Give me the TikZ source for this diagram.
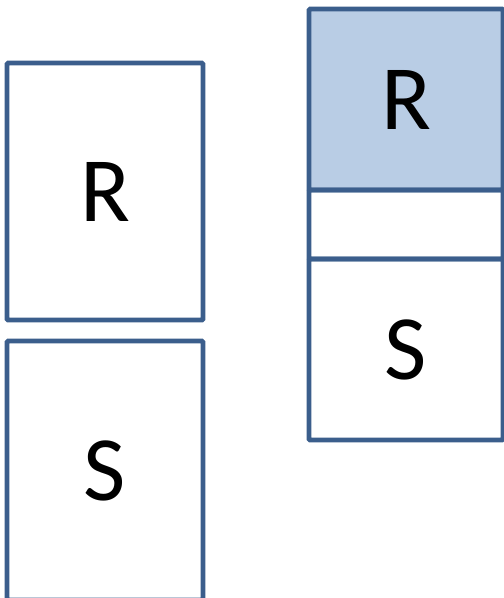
\documentclass[tikz,border=0pt]{standalone}
\usepackage{fontspec}
\setmainfont{Carlito}
\definecolor{edgeblue}{HTML}{3B5E8C}
\definecolor{fillblue}{HTML}{B9CDE5}
\begin{document}
\begin{tikzpicture}[x=1pt,y=-1pt,
  box/.style={draw=edgeblue,line width=4.6pt,rounded corners=1pt,inner sep=0pt,
    font=\fontsize{92}{92}\selectfont,text=black}]
\useasboundingbox (0,0) rectangle (504,598);
\begin{scope}
\clip (0,0) rectangle (504,598);
\node[box,minimum width=196pt,minimum height=257pt] (lr) at (105,191.5) {R};
\node[box,minimum width=196pt,minimum height=259pt] (ls) at (105,470.5) {S};
\node[box,fill=fillblue,minimum width=194pt,minimum height=181pt] (rr) at (406,99.5) {R};
\node[box,minimum width=194pt,minimum height=69pt] (rm) at (406,224.5) {};
\node[box,minimum width=194pt,minimum height=181pt] (rs) at (406,349.5) {S};
\end{scope}
\end{tikzpicture}
\end{document}
